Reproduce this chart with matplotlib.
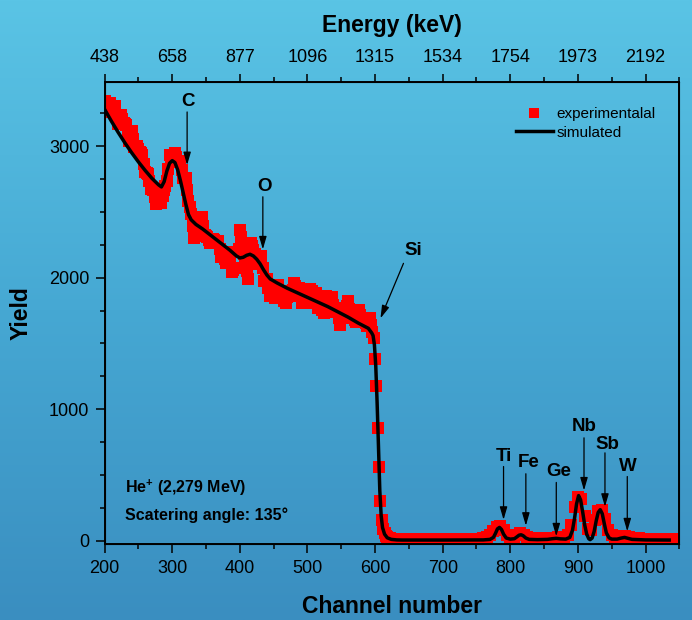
import numpy as np
import matplotlib
matplotlib.use("Agg")
import matplotlib.pyplot as plt
from matplotlib.colors import LinearSegmentedColormap
from matplotlib.lines import Line2D

plt.rcParams["font.family"] = ["Liberation Sans", "DejaVu Sans"]
plt.rcParams["mathtext.default"] = "regular"

# experimental spectrum (channel, yield)
exp_channel = (list(range(200, 598, 2)) + list(range(598, 628, 2))
               + list(range(630, 1045, 5)))
exp_yield = [
    # channels 200-596, every 2nd channel
    3340, 3300, 3259, 3290, 3327, 3295, 3263, 3280, 3304, 3235,
    3165, 3200, 3238, 3205, 3176, 3170, 3160, 3100, 3040, 3080,
    3115, 3055, 2997, 2995, 2999, 2980, 2957, 2945, 2931, 2865,
    2800, 2795, 2791, 2735, 2677, 2675, 2670, 2615, 2560, 2580,
    2600, 2585, 2570, 2620, 2670, 2700, 2735, 2830, 2930, 2915,
    2905, 2930, 2950, 2915, 2880, 2885, 2890, 2820, 2755, 2755,
    2755, 2670, 2585, 2535, 2485, 2390, 2300, 2335, 2370, 2380,
    2388, 2425, 2463, 2395, 2328, 2320, 2312, 2290, 2266, 2280,
    2295, 2287, 2279, 2280, 2278, 2215, 2157, 2165, 2171, 2140,
    2110, 2155, 2199, 2120, 2046, 2060, 2073, 2072, 2072, 2215,
    2360, 2310, 2259, 2180, 2104, 2050, 1993, 2130, 2266, 2240,
    2210, 2178, 2145, 2125, 2104, 2133, 2162, 2070, 1977, 1983,
    1990, 1925, 1861, 1868, 1876, 1862, 1849, 1895, 1942, 1892,
    1842, 1844, 1846, 1825, 1805, 1852, 1900, 1880, 1861, 1910,
    1957, 1937, 1918, 1920, 1923, 1866, 1809, 1819, 1829, 1817,
    1805, 1860, 1916, 1896, 1876, 1879, 1882, 1825, 1768, 1770,
    1773, 1753, 1734, 1797, 1860, 1848, 1835, 1844, 1854, 1796,
    1738, 1740, 1743, 1692, 1642, 1704, 1766, 1761, 1756, 1788,
    1820, 1761, 1703, 1697, 1691, 1677, 1664, 1710, 1757, 1714,
    1672, 1674, 1676, 1655, 1635, 1665, 1695, 1642, 1589,
    # edge of Si
    1540, 1380, 1180, 860, 560, 300, 160, 90, 55, 38, 28, 22, 18, 15, 13,
    # heavy elements
    12, 12, 11, 12, 11, 12, 11, 12, 11, 12,
    12, 11, 12, 12, 11, 12, 12, 13, 12, 13,
    13, 12, 13, 14, 15, 16, 20, 28, 45, 75,
    105, 110, 80, 45, 25, 30, 45, 55, 45, 28,
    18, 16, 16, 17, 18, 20, 22, 24, 26, 24,
    26, 45, 120, 260, 335, 320, 190, 90, 85, 160,
    225, 230, 165, 80, 40, 30, 30, 35, 38, 30,
    24, 20, 18, 16, 15, 14, 14, 13, 13, 13,
    12, 12, 12,
]

# simulated spectrum
sim_channel = [200, 210, 220, 230, 240, 250, 260, 270, 280, 284, 288, 292,
               296, 300, 304, 308, 312, 316, 320, 324, 328, 335, 345, 355,
               365, 375, 385, 395, 400, 405, 410, 415, 420, 425, 430, 435,
               440, 445, 455, 470, 485, 500, 515, 530, 545, 560, 575, 590,
               595, 597, 599, 601, 603, 605, 607, 609, 611, 614, 618, 624,
               632, 640, 700, 760, 770, 775, 778, 781, 784, 787, 790, 794,
               800, 806, 810, 813, 816, 819, 823, 828, 840, 855, 862, 868,
               874, 882, 888, 892, 895, 898, 901, 904, 907, 910, 913, 916,
               918, 921, 924, 927, 930, 933, 936, 939, 942, 946, 950, 958,
               964, 969, 974, 980, 990, 1000, 1035]
sim_yield = [3280, 3190, 3105, 3025, 2950, 2880, 2815, 2755, 2705, 2690, 2730, 2810,
             2870, 2890, 2875, 2820, 2740, 2650, 2560, 2480, 2440, 2405, 2370, 2330,
             2290, 2250, 2210, 2165, 2150, 2155, 2170, 2178, 2165, 2140, 2105, 2060,
             2020, 1990, 1960, 1920, 1885, 1850, 1815, 1780, 1740, 1700, 1655, 1615,
             1580, 1560, 1490, 1330, 1050, 720, 380, 190, 100, 50, 22, 10,
             6, 5, 5, 6, 10, 25, 55, 90, 101, 85, 50, 20,
             12, 15, 30, 42, 45, 38, 20, 10, 8, 10, 15, 18,
             14, 12, 25, 80, 170, 280, 343, 310, 220, 120, 50, 15,
             8, 20, 70, 150, 215, 236, 205, 130, 60, 22, 12, 12,
             20, 25, 18, 10, 8, 6, 5]

# top axis: energy labels at channels 200..1000
energy_ticks = [200, 300, 400, 500, 600, 700, 800, 900, 1000]
energy_labels = ["438", "658", "877", "1096", "1315", "1534", "1754", "1973", "2192"]

# peak labels: (text, text pos, arrow start, arrow tip)
elements = ["C", "O", "Si", "Ti", "Fe", "Ge", "Nb", "Sb", "W"]
label_xy = [(324, 3336), (436, 2691), (657, 2210), (790, 640), (827, 592),
            (872, 526), (909, 868), (943, 729), (974, 564)]
arrow_from = [(322, 3260), (434, 2615), (642, 2109), (790, 564), (823, 509),
              (868, 443), (909, 782), (940, 668), (973, 488)]
arrow_to = [(322, 2856), (434, 2215), (608, 1691), (790, 159), (823, 114),
            (868, 33), (909, 382), (940, 258), (973, 71)]


def draw_background(fig):
    cmap = LinearSegmentedColormap.from_list(
        "bg", ["#3a8ec0", "#46a8d3", "#5ac4e5"])
    bg = fig.add_axes([0, 0, 1, 1], zorder=-10)
    grad = np.linspace(0, 1, 256).reshape(-1, 1)
    bg.imshow(grad, aspect="auto", cmap=cmap, origin="lower",
              extent=[0, 1, 0, 1])
    bg.axis("off")


def main():
    fig = plt.figure(figsize=(6.92, 6.2), dpi=100)
    draw_background(fig)

    ax = fig.add_axes([0.1512, 0.1226, 0.8305, 0.7456])
    ax.set_facecolor("none")

    ax.plot(exp_channel, exp_yield, "s", color="#ff0000", ms=9, mew=0,
            zorder=2)
    ax.plot(sim_channel, sim_yield, "-", color="black", lw=2.5, zorder=3)

    ax.set_xlim(200, 1050)
    ax.set_ylim(-25, 3490)

    ax.set_xticks(range(200, 1001, 100))
    ax.set_xticks(range(250, 1051, 100), minor=True)
    ax.set_yticks([0, 1000, 2000, 3000])
    ax.set_yticks(np.arange(250, 3500, 250), minor=True)
    ax.tick_params(which="both", direction="out", width=1.1, labelsize=13,
                   right=False, top=False)
    ax.tick_params(which="major", length=6.5)
    ax.tick_params(which="minor", length=3.4)
    ax.tick_params(axis="x", pad=5)
    ax.tick_params(axis="y", pad=4.5)
    for sp in ax.spines.values():
        sp.set_linewidth(1.4)

    ax.set_xlabel("Channel number", fontsize=16.5, fontweight="bold",
                  labelpad=13)
    ax.set_ylabel("Yield", fontsize=16.5, fontweight="bold", labelpad=12)

    top = ax.twiny()
    top.set_xlim(ax.get_xlim())
    top.set_xticks(energy_ticks)
    top.set_xticklabels(energy_labels)
    top.set_xticks(range(250, 1051, 100), minor=True)
    top.tick_params(which="both", direction="out", width=1.1, labelsize=13,
                    pad=6)
    top.tick_params(which="major", length=5.5)
    top.tick_params(which="minor", length=3.4)
    top.set_xlabel("Energy (keV)", fontsize=16.5, fontweight="bold",
                   labelpad=12)

    for name, txy, a0, a1 in zip(elements, label_xy, arrow_from, arrow_to):
        ax.text(txy[0], txy[1], name, fontsize=13.5, fontweight="bold",
                ha="center", va="center", zorder=5)
        ax.annotate("", xy=a1, xytext=a0, zorder=5,
                    arrowprops=dict(arrowstyle="-|>,head_length=0.55,head_width=0.16",
                                    color="black", lw=0.9, mutation_scale=14,
                                    shrinkA=0, shrinkB=0))

    ax.text(230, 403, "He$^{+}$ (2,279 MeV)", fontsize=11.5,
            fontweight="bold", va="center")
    ax.text(230, 190, "Scatering angle: 135°", fontsize=11.5,
            fontweight="bold", va="center")

    handles = [Line2D([], [], ls="none", marker="s", color="#ff0000",
                      ms=6.5, mew=0),
               Line2D([], [], color="black", lw=2.5)]
    ax.legend(handles, ["experimentalal", "simulated"], loc="upper left",
              bbox_to_anchor=(0.716, 0.945), frameon=False, fontsize=11,
              handlelength=2.4, handletextpad=0.26, labelspacing=0.3,
              borderpad=0, borderaxespad=0, numpoints=1)

    fig.savefig("out.png", dpi=100)


if __name__ == "__main__":
    main()
